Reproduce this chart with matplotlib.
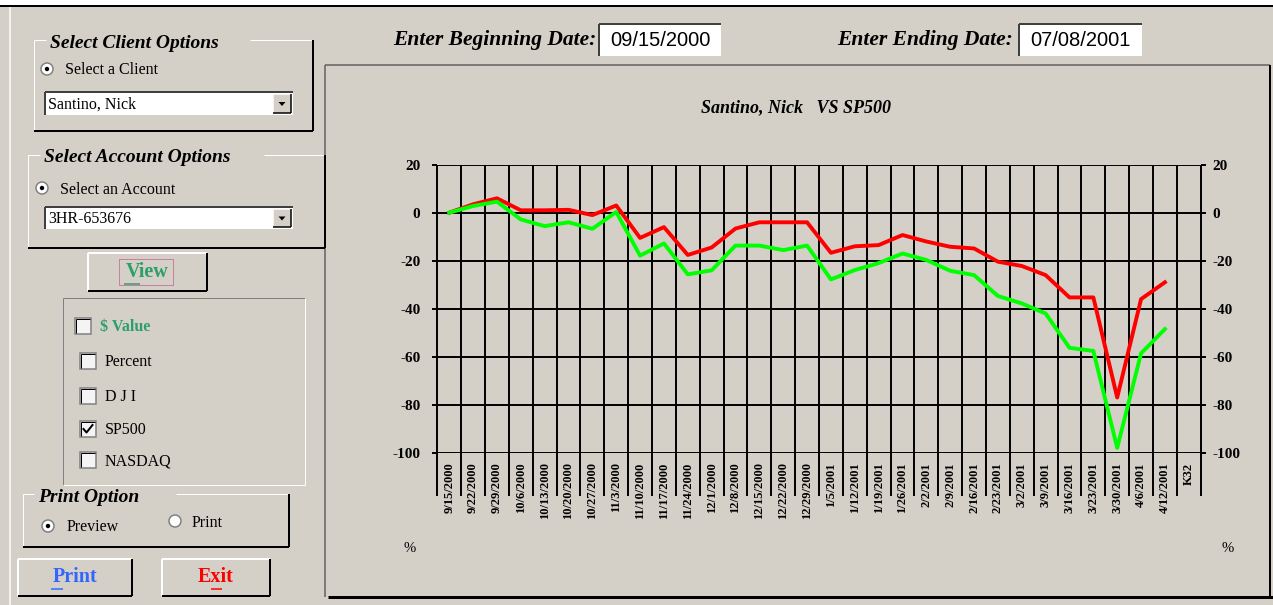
import numpy as np
import matplotlib as mpl
mpl.use("Agg")
import matplotlib.pyplot as plt
from matplotlib.patches import Rectangle, Circle, Polygon

W, H = 1273, 605
BG = "#d4d0c8"
SERIF = "Liberation Serif"
SANS = "Liberation Sans"
PX = 0.72  # one pixel in points at dpi 100

weeks = ["9/15/2000", "9/22/2000", "9/29/2000", "10/6/2000", "10/13/2000", "10/20/2000",
         "10/27/2000", "11/3/2000", "11/10/2000", "11/17/2000", "11/24/2000", "12/1/2000",
         "12/8/2000", "12/15/2000", "12/22/2000", "12/29/2000", "1/5/2001", "1/12/2001",
         "1/19/2001", "1/26/2001", "2/2/2001", "2/9/2001", "2/16/2001", "2/23/2001",
         "3/2/2001", "3/9/2001", "3/16/2001", "3/23/2001", "3/30/2001", "4/6/2001",
         "4/12/2001", "K32"]
client = [0, 3.5, 6, 1, 1, 1.2, -1, 3, -10.5, -6, -17.6, -14.5, -6.6, -4, -4, -4,
          -16.7, -14, -13.5, -9.3, -12, -14.2, -14.9, -20.4, -22.2, -26, -35.3, -35.3,
          -77, -36, -29]
sp500 = [0, 2.8, 4.6, -2.8, -5.6, -4, -6.7, 0.3, -17.9, -12.8, -25.7, -24, -13.7, -13.7,
         -15.6, -13.7, -27.8, -23.9, -21, -17, -19.7, -24.2, -26, -34.7, -37.8, -42,
         -56.3, -57.6, -98, -58.6, -48.5]
yticks = [20, 0, -20, -40, -60, -80, -100]

client_name = "Santino, Nick"
account = "3HR-653676"
begin_date, end_date = "09/15/2000", "07/08/2001"
series_boxes = [("$ Value", False), ("Percent", False), ("D J I", False),
                ("SP500", True), ("NASDAQ", False)]

fig = plt.figure(figsize=(W / 100, H / 100), dpi=100, facecolor=BG)
ui = fig.add_axes([0, 0, 1, 1])
ui.set_xlim(0, W); ui.set_ylim(H, 0); ui.axis("off")


def line(x0, y0, x1, y1, c="black", w=1, **kw):
    ui.plot([x0, x1], [y0, y1], color=c, lw=w * PX, solid_capstyle="butt", **kw)


def bevel(x0, y0, x1, y1, raised=True, w=1):
    hi, lo = ("white", "black") if raised else ("#808080", "white")
    line(x0, y0, x1, y0, hi, w); line(x0, y0, x0, y1, hi, w)
    line(x0, y1, x1, y1, lo, w); line(x1, y0, x1, y1, lo, w)


def group(x0, y0, x1, y1, title, gap0, gap1):
    line(x0, y0, gap0, y0, "white"); line(gap1, y0, x1, y0, "white")
    line(x0, y0, x0, y1, "white")
    line(x0, y1, x1, y1, "black", 2); line(x1, y0, x1, y1, "black", 2)
    ui.text(gap0 + 4, y0 + 3, title, family=SERIF, weight="bold", style="italic",
            fontsize=14, va="center", ha="left")


def radio(x, y, on):
    ui.add_patch(Circle((x, y), 6, fc="white", ec="#808080", lw=1.5 * PX))
    if on:
        ui.add_patch(Circle((x, y), 2.2, fc="black", ec="none"))


def check(x, y, on):
    ui.add_patch(Rectangle((x, y), 16, 16, fc="#f4f4f4", ec="#808080", lw=1.5 * PX))
    line(x + 1, y + 1, x + 15, y + 1, "black"); line(x + 1, y + 1, x + 1, y + 15, "black")
    if on:
        ui.plot([x + 3.5, x + 6.5, x + 12.5], [y + 8, y + 11.5, y + 4], color="black",
                lw=2 * PX)


def combo(x0, y0, x1, y1, txt):
    ui.add_patch(Rectangle((x0, y0), x1 - x0, y1 - y0, fc="white", ec="none"))
    line(x0, y0, x1, y0, "#404040", 2); line(x0, y0, x0, y1, "#404040", 2)
    ui.text(x0 + 3, (y0 + y1) / 2 + 1, txt, family=SERIF, fontsize=11.5, va="center")
    bx0, bx1 = x1 - 20, x1 - 2
    ui.add_patch(Rectangle((bx0, y0 + 2), bx1 - bx0, y1 - y0 - 4, fc=BG, ec="none"))
    bevel(bx0, y0 + 2, bx1, y1 - 2, True, 1.5)
    cx, cy = (bx0 + bx1) / 2, (y0 + y1) / 2
    ui.add_patch(Polygon([[cx - 3.5, cy - 1.5], [cx + 3.5, cy - 1.5], [cx, cy + 2.5]],
                         fc="black", ec="none"))


def button(x0, y0, x1, y1, txt, color, ul):
    bevel(x0, y0, x1, y1, True, 2)
    ui.text((x0 + x1) / 2, (y0 + y1) / 2, txt, family=SERIF, weight="bold", fontsize=14.5,
            color=color, ha="center", va="center")
    line(ul[0], ul[2], ul[1], ul[2], color, 1.5)


# top strip and outer frame
ui.add_patch(Rectangle((0, 0), W, 5, fc="white", ec="none"))
line(0, 5.5, W, 5.5, "black", 2)
line(10, 7, 10, H, "white", 1.5)

# chart frame
line(325, 65, 1270, 65, "#606060", 1.5)
line(325, 65, 325, 597, "#606060", 1.5)
line(328, 596.5, W, 596.5, "black", 3)
line(1269.5, 65, 1269.5, 598, "black", 2)

# date inputs
ui.text(596, 40, "Enter Beginning Date:", family=SERIF, weight="bold", style="italic",
        fontsize=15.5, ha="right", va="center")
ui.text(1013, 40, "Enter Ending Date:", family=SERIF, weight="bold", style="italic",
        fontsize=15.5, ha="right", va="center")
for x0, x1, txt in [(599, 721, begin_date), (1019, 1142, end_date)]:
    ui.add_patch(Rectangle((x0, 24), x1 - x0, 32, fc="white", ec="none"))
    line(x0, 24, x1, 24, "#404040", 2); line(x0, 24, x0, 56, "#404040", 2)
    ui.text((x0 + x1) / 2, 41, txt, family=SANS, fontsize=14.5, ha="center", va="center")

# left controls
group(34, 40, 313, 131, "Select Client Options", 46, 250)
radio(47, 69, True)
ui.text(65, 70, "Select a Client", family=SERIF, fontsize=11.5, va="center")
combo(45, 92, 293, 115, client_name)

group(28, 155, 325, 248, "Select Account Options", 40, 264)
radio(42, 188, True)
ui.text(60, 190, "Select an Account", family=SERIF, fontsize=11.5, va="center")
combo(45, 207, 293, 229, account)

button(88, 253, 207, 291, "View", "#2e9e6b", (124, 140, 284))
ui.add_patch(Rectangle((119, 259), 54, 26, fc="none", ec="#c0307a", lw=1 * PX, ls=(0, (1, 1))))

line(63, 298, 305, 298, "#808080"); line(63, 298, 63, 485, "#808080")
line(63, 485, 305, 485, "white"); line(305, 298, 305, 485, "white")
for i, (name, on) in enumerate(series_boxes):
    y = [326, 361, 396, 429, 460][i]
    bx = 75 if i == 0 else 80
    check(bx, y - 8, on)
    if i == 0:
        ui.text(100, y + 1, name, family=SERIF, weight="bold", fontsize=11.5, color="#2e9e6b",
                va="center")
    else:
        ui.text(105, y + 1, name, family=SERIF, fontsize=11.5, va="center")

group(23, 494, 289, 547, "Print Option", 34, 176)
radio(48, 526, True)
ui.text(67, 527, "Preview", family=SERIF, fontsize=11.5, va="center")
radio(175, 521, False)
ui.text(192, 523, "Print", family=SERIF, fontsize=11.5, va="center")

button(18, 559, 132, 596, "Print", "#3366ff", (51, 63, 589))
button(162, 559, 270, 596, "Exit", "#ff0000", (211, 222, 589))

# chart
ax = fig.add_axes([437.3 / W, 1 - 452.7 / H, 763.4 / W, 288 / H])
ax.patch.set_alpha(0)
x = np.arange(len(weeks))
ax.set_xlim(-0.5, len(weeks) - 0.5)
ax.set_ylim(-100, 20)
for s in ax.spines.values():
    s.set_visible(False)
ax.set_yticks(yticks)
ax.set_yticklabels([str(v) for v in yticks], family=SERIF, weight="bold", fontsize=11)
ax.grid(axis="y", color="black", lw=1.4)
ax.vlines(np.arange(len(weeks) + 1) - 0.5, -118, 20, colors="black", lw=1.4, clip_on=False)
ax.set_xticks(x)
ax.set_xticklabels(weeks, rotation=90, family=SERIF, weight="bold", fontsize=9,
                   va="top", ha="center")
ax.tick_params(axis="x", length=0, pad=7)
ax.tick_params(axis="y", length=3.6, width=1.4, pad=8.6)
ax2 = ax.twinx()
ax2.set_ylim(-100, 20)
for s in ax2.spines.values():
    s.set_visible(False)
ax2.set_yticks(yticks)
ax2.set_yticklabels([str(v) for v in yticks], family=SERIF, weight="bold", fontsize=11)
ax2.tick_params(axis="y", length=3.6, width=1.4, pad=5)

ax.plot(x[:len(client)], client, color="#ff0000", lw=2.8, zorder=3)
ax.plot(x[:len(sp500)], sp500, color="#00ff00", lw=2.8, zorder=3)

ui.text(796, 108, client_name + "   VS SP500", family=SERIF, weight="bold", style="italic",
        fontsize=13, ha="center", va="center")
ui.text(410, 549, "%", family=SERIF, fontsize=10.5, ha="center", va="center")
ui.text(1228, 549, "%", family=SERIF, fontsize=10.5, ha="center", va="center")

fig.savefig("out.png", dpi=100, facecolor=BG)
